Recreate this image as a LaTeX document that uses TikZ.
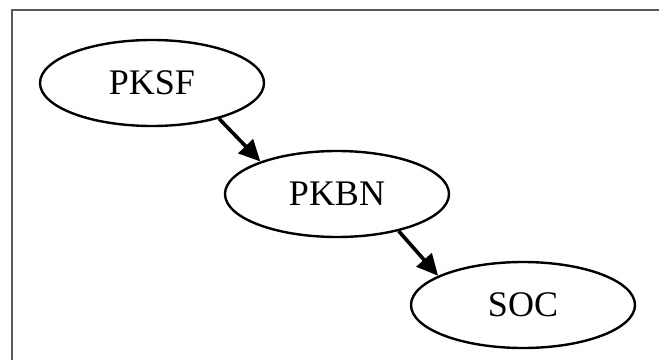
\documentclass[tikz,border=0pt]{standalone}
\usepackage{fontspec}
\setmainfont{Liberation Serif}
\usetikzlibrary{shapes.geometric,arrows.meta}
\tikzset{
  blob/.style={ellipse,draw,line width=1.8pt,minimum width=168pt,minimum height=64.5pt,inner sep=0pt,font=\fontsize{27}{32}\selectfont},
  link/.style={line width=2.7pt,-{Triangle[length=16pt,width=15pt]}}
}
\begin{document}
\begin{tikzpicture}[x=0.75pt,y=-0.75pt]
\useasboundingbox (0,0) rectangle (659,360);
\draw[line width=1.5pt,black!65] (12,360) -- (12,10) -- (659,10);
\node[blob] (pksf) at (152,83) {PKSF};
\node[blob] (pkbn) at (337,194) {PKBN};
\node[blob] (soc) at (523,305) {SOC};
\draw[link] (pksf.-28) -- (pkbn.157);
\draw[link] (pkbn.-31) -- (soc.161);
\end{tikzpicture}
\end{document}
